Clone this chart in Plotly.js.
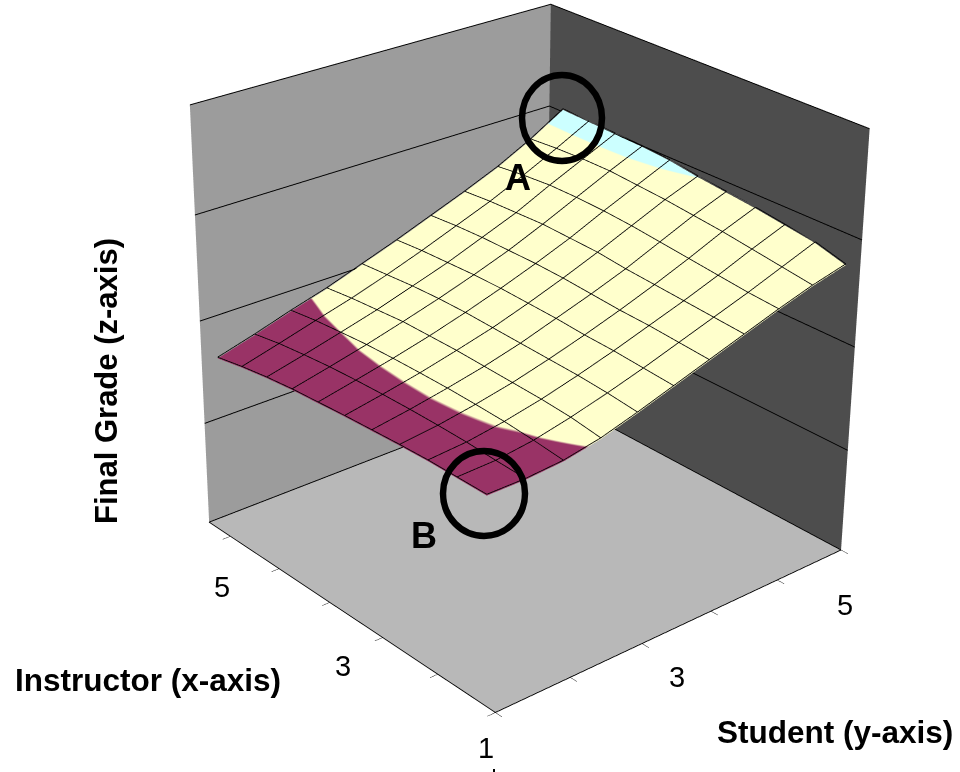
<!DOCTYPE html>
<html><head><meta charset="utf-8">
<script src="https://cdn.plot.ly/plotly-3.0.1.min.js"></script>
<style>html,body{margin:0;padding:0;background:#fff;overflow:hidden;width:960px;height:772px}#c{position:absolute;left:-915px;top:-824px;width:2880px;height:2316px}</style>
</head><body><div id="c"></div>
<script>
const studentGrid=[1.04,1.436,1.832,2.228,2.624,3.02,3.416,3.812,4.208,4.604,5.0];
const instructorGrid=[1.18,1.577,1.974,2.371,2.768,3.165,3.562,3.959,4.356,4.753,5.15];
const grade0=[1.90,1.90,1.925,1.99,2.09,2.20,2.31,2.42,2.53,2.63,2.71];
const grade1=[1.90,1.91,1.955,2.03,2.12,2.22,2.33,2.44,2.55,2.67,2.79];
const grade2=[1.90,1.925,1.978,2.05,2.14,2.24,2.35,2.46,2.58,2.71,2.83];
const grade3=[1.89,1.93,1.989,2.06,2.15,2.25,2.36,2.48,2.61,2.75,2.87];
const grade4=[1.875,1.93,1.996,2.07,2.16,2.27,2.38,2.50,2.64,2.78,2.90];
const grade5=[1.86,1.925,1.996,2.08,2.17,2.28,2.40,2.53,2.67,2.81,2.93];
const grade6=[1.84,1.915,1.993,2.08,2.18,2.29,2.41,2.54,2.69,2.83,2.97];
const grade7=[1.82,1.90,1.985,2.08,2.18,2.29,2.41,2.55,2.70,2.85,2.99];
const grade8=[1.79,1.875,1.966,2.06,2.17,2.28,2.41,2.54,2.70,2.85,3.00];
const grade9=[1.75,1.845,1.944,2.04,2.15,2.27,2.40,2.53,2.68,2.84,3.01];
const grade10=[1.70,1.80,1.91,2.01,2.13,2.25,2.38,2.51,2.65,2.82,3.02];
const grades=[grade0,grade1,grade2,grade3,grade4,grade5,grade6,grade7,grade8,grade9,grade10];
const axisTicks=[1,1.8,2.6,3.4,4.2,5];
const instructorLabels=[1,3,5];
const studentLabels=[3,5];
const instructorLabelDrop=[-36,-46,-51];
const instructorLabelSide=[-9,-13,-8];
const studentLabelDrop=[-50,-55];
const studentLabelSide=[0,4];
const zLevels=[0,1,2,3,4];
const bandLow=1.97, bandHigh=2.93;
const zMin=0, zMax=4, colorMin=1.85, colorMax=3.05, wireLift=0.012;
const norm=v=>(v-colorMin)/(colorMax-colorMin);
const scale=[[0,'#993366'],[norm(bandLow),'#993366'],[norm(bandLow),'#FFFFCC'],[norm(bandHigh),'#FFFFCC'],[norm(bandHigh),'#CCFFFF'],[1,'#CCFFFF']];
const font='"Liberation Sans",Arial,sans-serif';
const W=2880,H=2316,offX=-915,offY=-824;
const wire=(x,y,z)=>({type:'scatter3d',mode:'lines',x,y,z:z.map(v=>v+wireLift),line:{color:'#000',width:1.6},hoverinfo:'skip',showlegend:false});
const data=[{type:'surface',x:studentGrid,y:instructorGrid,z:grades,cmin:colorMin,cmax:colorMax,colorscale:scale,showscale:false,hoverinfo:'skip',
 lighting:{ambient:1,diffuse:0,specular:0,roughness:1,fresnel:0},
 contours:{x:{show:false,highlight:false},y:{show:false,highlight:false},z:{show:false,highlight:false}}},
 ...instructorGrid.map((u,i)=>wire(studentGrid,studentGrid.map(()=>u),grades[i])),
 ...studentGrid.map((s,j)=>wire(instructorGrid.map(()=>s),instructorGrid,grades.map(r=>r[j])))];
const pos={x:v=>(v-offX)/W,y:v=>1-(v-offY)/H};
const txt=(t,x,y,size,bold,angle)=>({text:bold?'<b>'+t+'</b>':t,x:pos.x(x),y:pos.y(y),xref:'paper',yref:'paper',xanchor:'center',yanchor:'middle',showarrow:false,textangle:angle||0,font:{family:font,size:size,color:'#000'}});
const ring=(cx,cy,rx,ry)=>({type:'circle',xref:'paper',yref:'paper',x0:pos.x(cx-rx),x1:pos.x(cx+rx),y0:pos.y(cy-ry),y1:pos.y(cy+ry),line:{color:'#000',width:6.5}});
const axisCommon={showgrid:false,zeroline:false,showspikes:false,showticklabels:false,title:{text:''},showbackground:true,showline:true,linecolor:'#000',linewidth:2};
const sceneNotes=[
 ...instructorLabels.map((v,i)=>({x:1,y:v,z:0,text:String(v),showarrow:false,xshift:instructorLabelSide[i],yshift:instructorLabelDrop[i],font:{family:font,size:29,color:'#000'}})),
 ...studentLabels.map((v,i)=>({x:v,y:1,z:0,text:String(v),showarrow:false,xshift:studentLabelSide[i],yshift:studentLabelDrop[i],font:{family:font,size:29,color:'#000'}}))
];
const layout={width:W,height:H,margin:{l:0,r:0,t:0,b:0},paper_bgcolor:'#fff',showlegend:false,
 scene:{domain:{x:[0,1],y:[0,1]},aspectmode:'manual',aspectratio:{x:0.5,y:0.497,z:0.5},
  camera:{eye:{x:-1.77,y:-2.037,z:1.314},center:{x:0,y:0,z:0},up:{x:0.28,y:0.338,z:0.899}},
  xaxis:{...axisCommon,range:[1,5],tickvals:axisTicks,ticks:'outside',ticklen:8,tickcolor:'#000',backgroundcolor:'#4d4d4d'},
  yaxis:{...axisCommon,range:[1,5.36],tickvals:axisTicks,ticks:'outside',ticklen:8,tickcolor:'#000',backgroundcolor:'#9c9c9c'},
  zaxis:{...axisCommon,range:[zMin,zMax],tickvals:zLevels,showgrid:true,gridcolor:'#000',gridwidth:2,showline:false,ticks:'',backgroundcolor:'#b8b8b8'},
  annotations:sceneNotes},
 annotations:[txt('Final Grade (z-axis)',106,381,31,true,-90),txt('Instructor (x-axis)',148,680,31.5,true),txt('Student (y-axis)',835,732,31.5,true),txt('A',518,177,36,true),txt('B',424,535,36,true)],
 shapes:[ring(562,118,40,43),ring(484,493.5,41,42.5),
  {type:'line',xref:'paper',yref:'paper',x0:pos.x(494),x1:pos.x(494),y0:pos.y(769),y1:pos.y(772),line:{color:'#000',width:2}}]};
Plotly.newPlot('c',data,layout,{displayModeBar:false}).then(()=>{
 const svgs=document.querySelectorAll('.main-svg');
 const layer=document.querySelector('.layer-above .shapelayer');
 if(layer&&svgs[1])svgs[1].insertBefore(layer,svgs[1].firstChild);
});
</script></body></html>
